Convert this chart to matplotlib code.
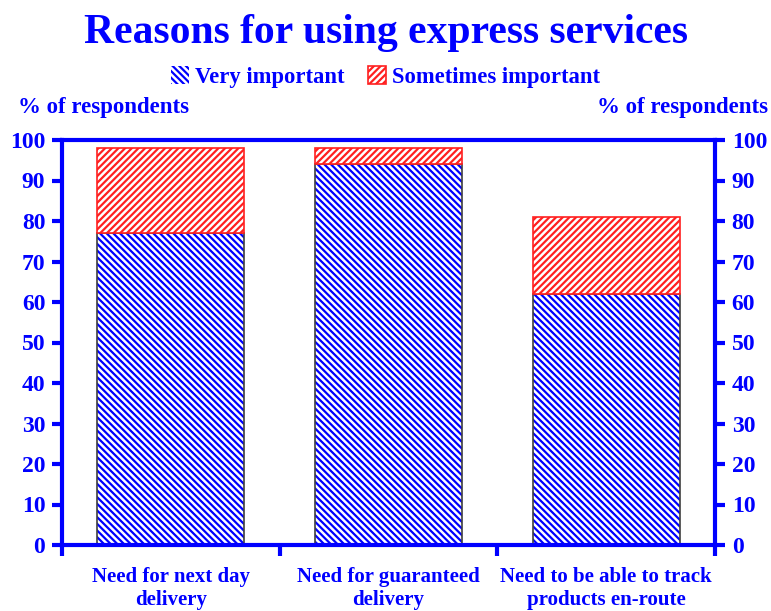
import matplotlib.pyplot as plt
import numpy as np

plt.rcParams['font.family'] = 'Liberation Serif'
plt.rcParams['font.weight'] = 'bold'
plt.rcParams['hatch.linewidth'] = 1.6

categories = ['Need for next day\ndelivery', 'Need for guaranteed\ndelivery',
              'Need to be able to track\nproducts en-route']
very_important = [77, 94, 62]
sometimes_important = [21, 4, 19]
yticks = [0, 10, 20, 30, 40, 50, 60, 70, 80, 90, 100]

blue = '#0000FF'
red = '#FF2020'

fig = plt.figure(figsize=(7.71, 6.11), dpi=100)
ax = fig.add_axes([62/771, 66/611, 653/771, 405/611])

x = np.arange(len(categories))
w = 0.675
ax.bar(x, very_important, w, color='white', edgecolor=blue, hatch='\\' * 5,
       linewidth=0, label='Very important')
ax.bar(x, very_important, w, color='none', edgecolor='#404040', linewidth=1.2)
ax.bar(x, sometimes_important, w, bottom=very_important, color='white',
       edgecolor=red, hatch='/' * 5, linewidth=1.2, label='Sometimes important')

ax.set_xlim(-0.5, 2.5)
ax.set_ylim(0, 100)
ax.set_yticks(yticks)
ax.set_xticks([-0.5, 0.5, 1.5, 2.5])
ax.set_xticklabels([])
ax.tick_params(axis='x', length=8, width=3, color=blue, direction='out')
ax.tick_params(axis='y', length=7, width=3, color=blue, labelcolor=blue,
               labelsize=17, right=True, labelright=True, pad=5)
for s in ['left', 'right', 'bottom', 'top']:
    ax.spines[s].set_color(blue)
    ax.spines[s].set_linewidth(3)

for i, c in enumerate(categories):
    ax.text(i, -5.5, c, ha='center', va='top', color=blue, fontsize=15,
            fontweight='bold', linespacing=1.15)

fig.text(0.5, 1 - 33/611, 'Reasons for using express services', ha='center',
         va='center', color=blue, fontsize=30, fontweight='bold')
fig.text(18/771, 1 - 107/611, '% of respondents', ha='left', va='center',
         color=blue, fontsize=16.5, fontweight='bold')
fig.text(768/771, 1 - 107/611, '% of respondents', ha='right', va='center',
         color=blue, fontsize=16.5, fontweight='bold')

leg = fig.legend(loc='center', bbox_to_anchor=(0.5, 1 - 77/611), ncol=2,
                 frameon=False, fontsize=16.3, handlelength=0.8, handleheight=0.8,
                 handletextpad=0.3, columnspacing=1.0)
for t in leg.get_texts():
    t.set_color(blue)

fig.savefig('out.png', dpi=100)
